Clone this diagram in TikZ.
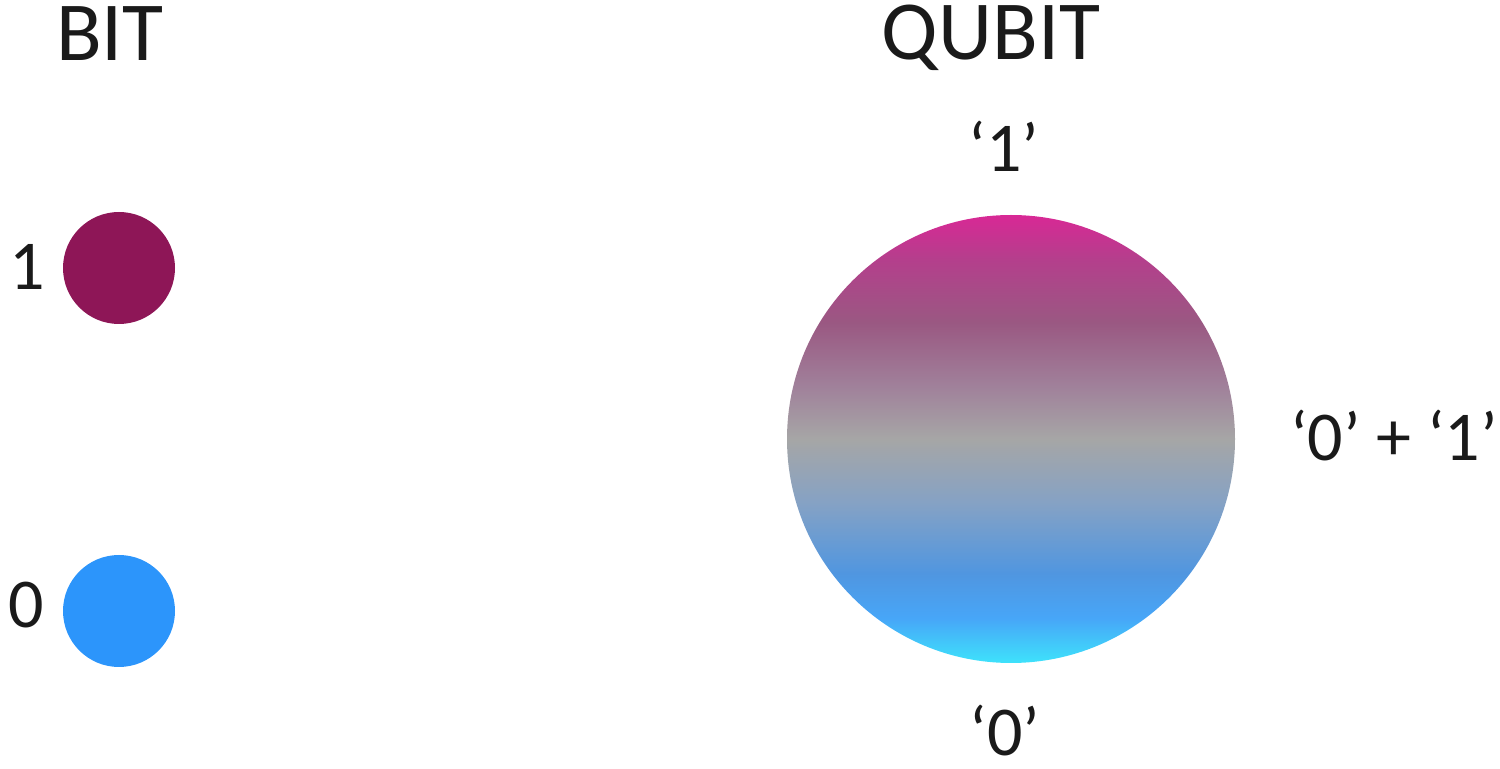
\documentclass[tikz,border=0pt]{standalone}
\usepackage{fontspec}
\setmainfont{Carlito}
\definecolor{txt}{HTML}{1A1A1A}
\definecolor{bitone}{HTML}{8E1657}
\definecolor{bitzero}{HTML}{2C95FB}
\definecolor{qa}{HTML}{3EE2FB}
\definecolor{qb}{HTML}{47A6F8}
\definecolor{qc}{HTML}{5096E0}
\definecolor{qd}{HTML}{86A2C4}
\definecolor{qe}{HTML}{A6A6A6}
\definecolor{qf}{HTML}{A0809A}
\definecolor{qg}{HTML}{9A5882}
\definecolor{qh}{HTML}{B43F8C}
\definecolor{qi}{HTML}{D82895}
\pgfdeclareverticalshading{qubitshade}{100bp}{color(0bp)=(qa); color(25bp)=(qa); color(30bp)=(qb); color(35bp)=(qc); color(43bp)=(qd); color(50bp)=(qe); color(56bp)=(qf); color(63bp)=(qg); color(70bp)=(qh); color(75bp)=(qi); color(100bp)=(qi)}
\tikzset{
  big/.style={font=\fontsize{42}{48}\selectfont, text=txt, anchor=base, inner sep=0pt},
  lab/.style={font=\fontsize{35}{40}\selectfont, text=txt, anchor=base, inner sep=0pt},
  dot/.style={circle, inner sep=0pt, draw=none}
}
\begin{document}
\begin{tikzpicture}[x=0.5pt, y=-0.5pt]
\useasboundingbox (0,0) rectangle (1500,769);
\node[big] (bit) at (110,61) {BIT};
\node[big] (qubit) at (991,60) {QUBIT};
\node[dot, fill=bitone, minimum size=56pt] (one) at (119,268) {};
\node[dot, fill=bitzero, minimum size=56pt] (zero) at (119,611) {};
\node[lab] (lone) at (27,290) {1};
\node[lab] (lzero) at (26,628) {0};
\shade[shading=qubitshade, shading angle=0] (1011,439) circle[radius=224];
\coordinate (q) at (1011,439);
\node[lab] (qone) at (1004,172) {‘1’};
\node[lab] (qzero) at (1005,755) {‘0’};
\node[lab, anchor=base west] (qsup) at (1290,461) {‘0’ + ‘1’};
\end{tikzpicture}
\end{document}
